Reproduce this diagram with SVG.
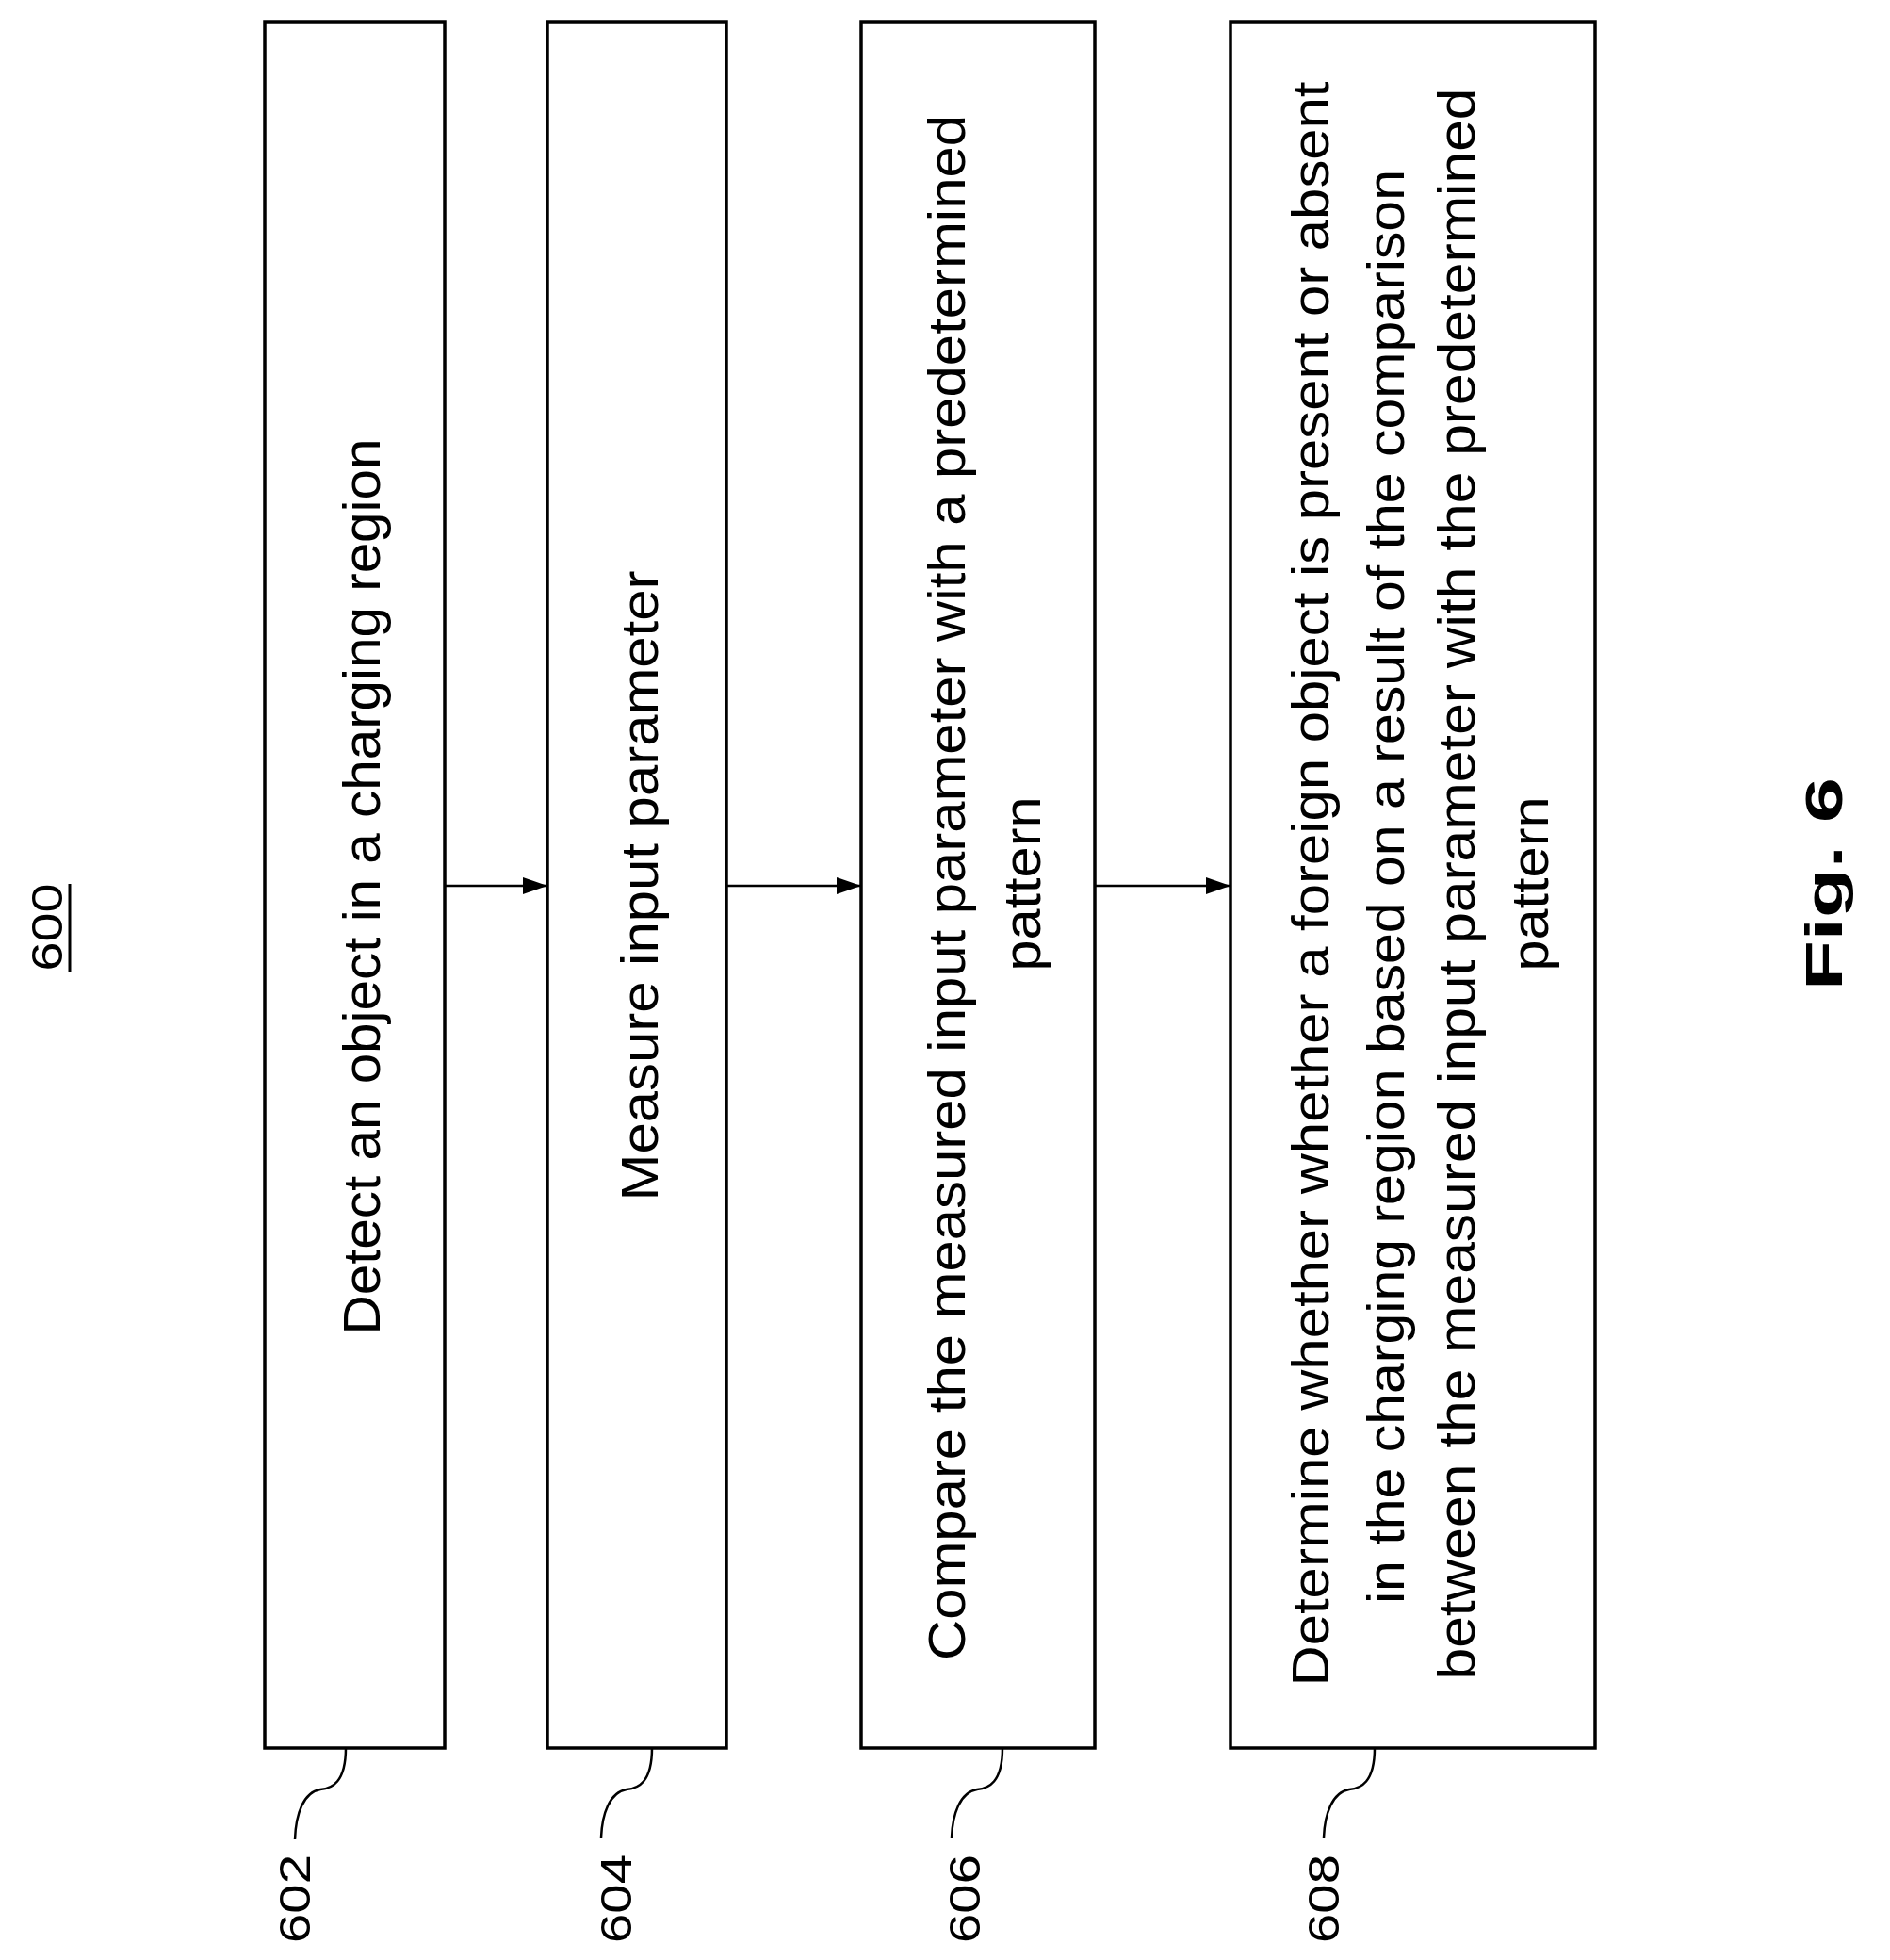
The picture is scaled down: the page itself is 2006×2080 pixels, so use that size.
<svg xmlns="http://www.w3.org/2000/svg" width="2006" height="2080" viewBox="0 0 2006 2080">
<style>
.box{fill:#fff;stroke:#000;stroke-width:3.5}
.t{font-family:"Liberation Sans",Arial,sans-serif;font-size:56px;fill:#000;text-anchor:middle;dominant-baseline:central}
.ref{font-family:"Liberation Sans",Arial,sans-serif;font-size:46px;fill:#000;text-anchor:middle;dominant-baseline:central}
.c{fill:none;stroke:#000;stroke-width:2.5}
</style>
<defs><marker id="ah" viewBox="0 0 10 10" refX="10" refY="5" markerWidth="26" markerHeight="18" markerUnits="userSpaceOnUse" orient="auto" preserveAspectRatio="none"><path d="M0,0 L10,5 L0,10 Z" fill="#000"/></marker></defs>
<rect width="2006" height="2080" fill="#fff"/>
<g id="label600">
<text class="ref" font-size="50" transform="translate(50,984) rotate(-90)" textLength="93" lengthAdjust="spacingAndGlyphs">600</text>
<line x1="74" y1="938" x2="74" y2="1031" stroke="#000" stroke-width="3"/>
</g>
<g id="n602">
<rect class="box" x="281" y="23" width="191" height="1832"/>
<text class="t" transform="translate(383,941) rotate(-90)" textLength="951" lengthAdjust="spacingAndGlyphs">Detect an object in a charging region</text>
</g>
<g id="n604">
<rect class="box" x="581" y="23" width="190" height="1832"/>
<text class="t" transform="translate(678,940) rotate(-90)" textLength="669" lengthAdjust="spacingAndGlyphs">Measure input parameter</text>
</g>
<g id="n606">
<rect class="box" x="914" y="23" width="248" height="1832"/>
<text class="t" transform="translate(1004,942) rotate(-90)" textLength="1640" lengthAdjust="spacingAndGlyphs">Compare the measured input parameter with a predetermined</text>
<text class="t" transform="translate(1084,938) rotate(-90)" textLength="185" lengthAdjust="spacingAndGlyphs">pattern</text>
</g>
<g id="n608">
<rect class="box" x="1306" y="23" width="387" height="1832"/>
<text class="t" transform="translate(1390,938) rotate(-90)" textLength="1703" lengthAdjust="spacingAndGlyphs">Determine whether whether a foreign object is present or absent</text>
<text class="t" transform="translate(1470,941) rotate(-90)" textLength="1522" lengthAdjust="spacingAndGlyphs">in the charging region based on a result of the comparison</text>
<text class="t" transform="translate(1545,938) rotate(-90)" textLength="1689" lengthAdjust="spacingAndGlyphs">between the measured input parameter with the predetermined</text>
<text class="t" transform="translate(1623,938) rotate(-90)" textLength="185" lengthAdjust="spacingAndGlyphs">pattern</text>
</g>
<g id="fig">
<text class="t" font-weight="bold" font-size="112" transform="translate(1935,938) rotate(-90)" textLength="226" lengthAdjust="spacingAndGlyphs">Fig. 6</text>
</g>
<g id="refs">
<text class="ref" transform="translate(313,2015) rotate(-90)" textLength="94" lengthAdjust="spacingAndGlyphs">602</text>
<text class="ref" transform="translate(654,2015) rotate(-90)" textLength="94" lengthAdjust="spacingAndGlyphs">604</text>
<text class="ref" transform="translate(1024,2015) rotate(-90)" textLength="94" lengthAdjust="spacingAndGlyphs">606</text>
<text class="ref" transform="translate(1405,2015) rotate(-90)" textLength="94" lengthAdjust="spacingAndGlyphs">608</text>
</g>
<g id="connectors">
<line class="c" x1="472" y1="940" x2="581" y2="940" marker-end="url(#ah)"/>
<line class="c" x1="771" y1="940" x2="914" y2="940" marker-end="url(#ah)"/>
<line class="c" x1="1162" y1="940" x2="1306" y2="940" marker-end="url(#ah)"/>
<path class="c" d="M367,1855 C367,1892 352,1898 340,1899 C322,1902 314,1925 313,1952"/>
<path class="c" d="M692,1855 C692,1892 677,1898 665,1899 C647,1902 639,1925 638,1950"/>
<path class="c" d="M1064,1855 C1064,1892 1049,1898 1037,1899 C1019,1902 1011,1925 1010,1950"/>
<path class="c" d="M1459,1855 C1459,1892 1444,1898 1432,1899 C1414,1902 1406,1925 1405,1950"/>
</g>
</svg>
